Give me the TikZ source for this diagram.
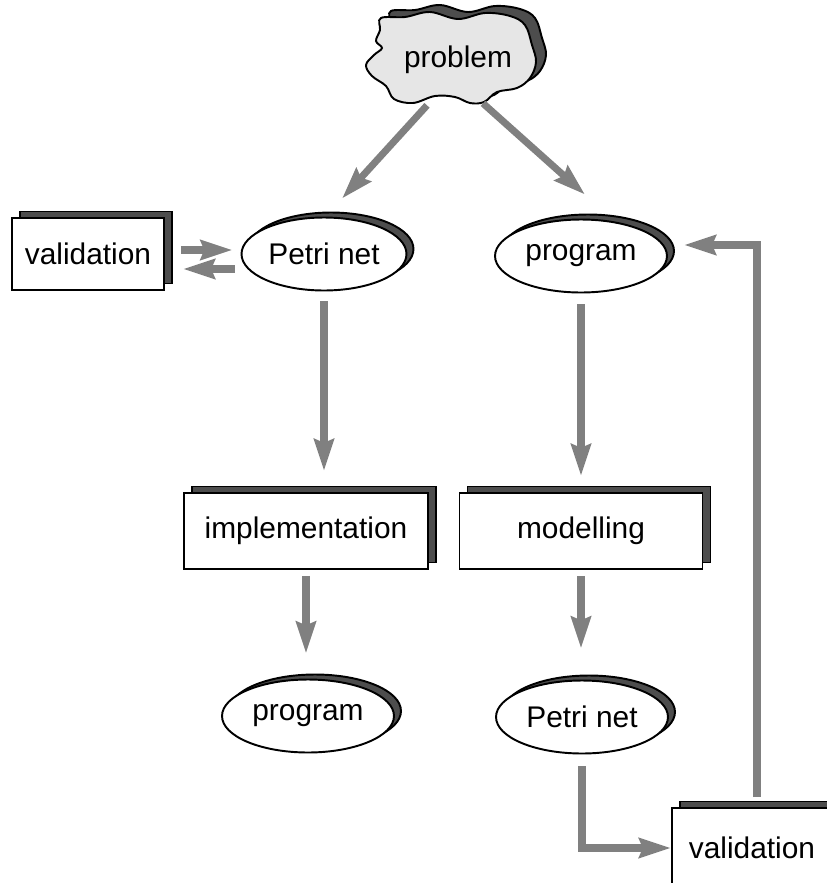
\documentclass[tikz,border=0pt]{standalone}
\usepackage{fontspec}
\setmainfont{Liberation Sans}
\usetikzlibrary{arrows.meta,calc,positioning,shapes.geometric,shadows}
\definecolor{flowgray}{HTML}{808080}
\definecolor{shade}{HTML}{4D4D4D}
\definecolor{cloudfill}{HTML}{E6E6E6}
\newcommand\labelfont{\fontsize{17pt}{20pt}\selectfont}
\tikzset{ovalnode/.style={ellipse,draw=black,line width=1.1pt,fill=white,minimum width=3.44cm,minimum height=1.46cm,inner sep=0pt,font=\labelfont,copy shadow={shadow xshift=.14cm,shadow yshift=.1cm,fill=shade,draw=black,line width=1.1pt}},stackbox/.style={rectangle,draw=black,line width=1.1pt,fill=white,minimum width=3.04cm,minimum height=1.44cm,inner sep=0pt,font=\labelfont,copy shadow={shadow xshift=.16cm,shadow yshift=.13cm,fill=shade,draw=black,line width=1.1pt}},flowarrow/.style={draw=flowgray,line width=4pt,-{Stealth[length=18pt,width=11pt,inset=2pt]}}}

\begin{document}
\begin{tikzpicture}[x=0.02cm,y=-0.02cm]
\clip (0,0) rectangle (827,883);
% the problem cloud, shadow first
\foreach \dx/\dy/\col in {10/-7/shade,0/0/cloudfill}{\draw[shift={(\dx,\dy)},fill=\col,line width=1.1pt] plot[smooth cycle,tension=.6] coordinates {(381,18) (405,17) (430,12) (458,19) (485,13) (510,16) (525,25) (532,45) (536,62) (530,78) (517,88) (497,92) (484,102) (470,103) (455,97) (435,96) (413,103) (394,99) (386,86) (372,76) (366,65) (374,55) (382,48) (376,41) (380,30)};}
\node[font=\labelfont,minimum width=3cm,minimum height=1.8cm] (prob) at (458,60) {problem};
\node[stackbox] (valA) at (88,254) {validation};
\node[ovalnode,minimum width=3.3cm] (petriA) at (324,254) {Petri net};
\node[ovalnode] (progA) at (581,256) {program};
\node[stackbox,minimum width=4.88cm,minimum height=1.52cm] (impl) at (306,531) {implementation};
\node[stackbox,minimum width=4.86cm,minimum height=1.52cm] (model) at (581,531) {modelling};
\node[ovalnode] (progB) at (308,716) {program};
\node[ovalnode] (petriB) at (582,717) {Petri net};
\node[stackbox,minimum width=3.2cm,minimum height=1.6cm] (valB) at (752,848) {validation};
\draw[flowarrow] ($(prob.south)+(-31,0)$) -- ($(petriA.north)+(18,-18)$);
\draw[flowarrow] ($(prob.south)+(25,-2)$) -- ($(progA.north)+(4,-24)$);
\draw[flowarrow] ($(valA.east)+(16,-4)$) -- ($(petriA.west)+(-8,-4)$);
\draw[flowarrow] ($(petriA.west)+(-6,15)$) -- ($(valA.east)+(18,15)$);
\foreach \u/\v/\s/\e in {petriA/impl/.2cm/.42cm,progA/model/.22cm/.32cm,impl/progB/.12cm/.5cm,model/petriB/.12cm/.62cm}{\draw[flowarrow,shorten <=\s,shorten >=\e] (\u.south) -- (\u.south |- \v.north);}
\draw[flowarrow,shorten <=.24cm] (petriB.south) |- (valB.west);
\draw[flowarrow] ($(valB.north)+(5,-10)$) |- ($(progA.east)+(16,-11)$);
\end{tikzpicture}
\end{document}
